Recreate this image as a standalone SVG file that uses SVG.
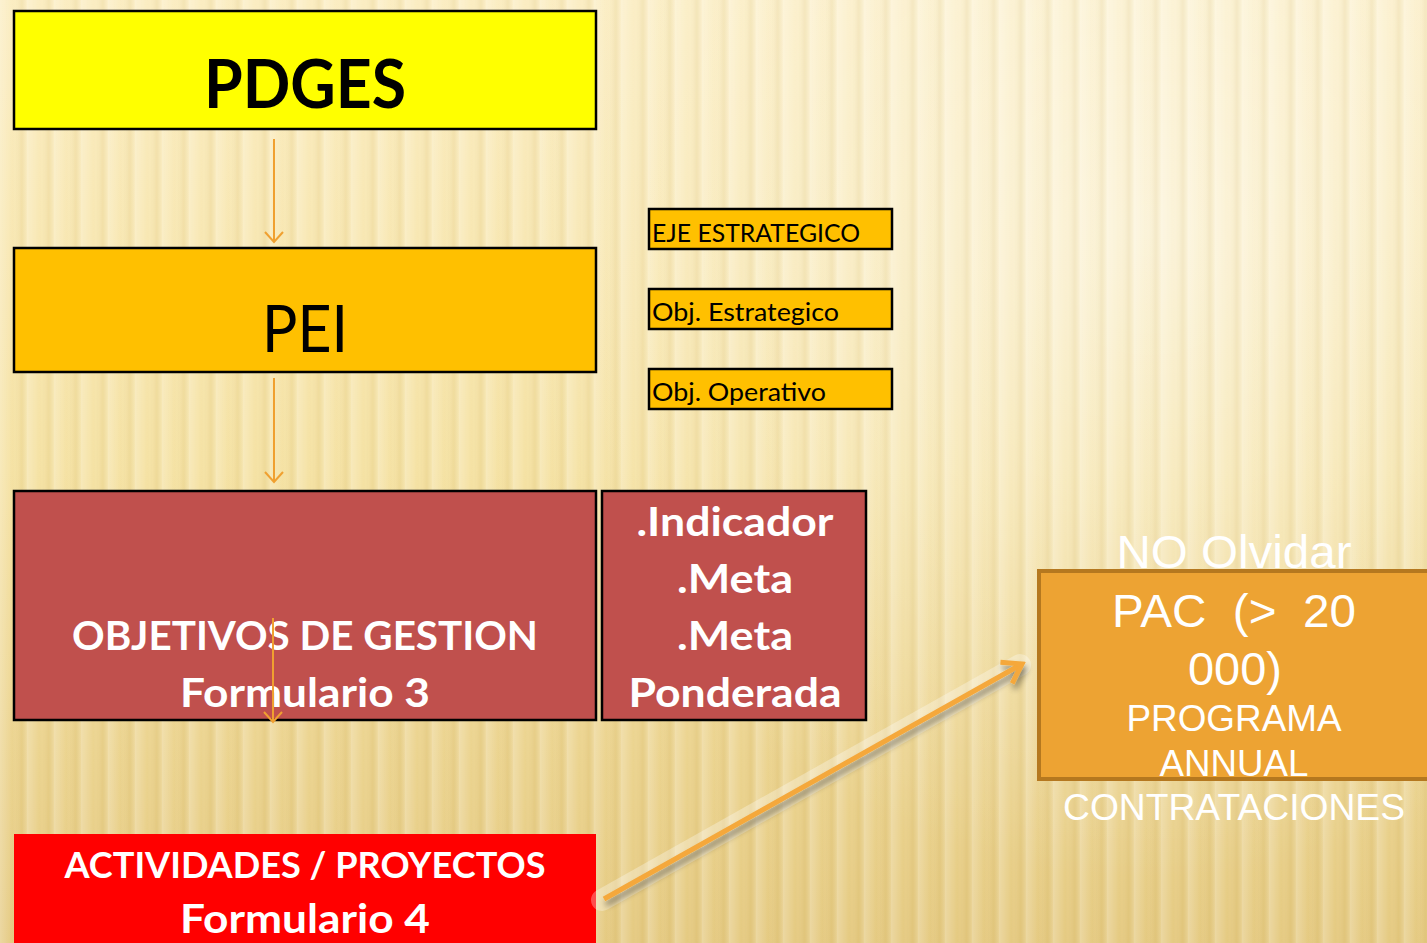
<svg xmlns="http://www.w3.org/2000/svg" width="1427" height="943" viewBox="0 0 1427 943">
<defs>
<linearGradient id="bg" x1="0" y1="0" x2="0" y2="1">
<stop offset="0" stop-color="#fbedc2"/>
<stop offset="0.5" stop-color="#f5e2a4"/>
<stop offset="1" stop-color="#e5ca82"/>
</linearGradient>
<radialGradient id="hl" cx="1150" cy="230" r="650" gradientUnits="userSpaceOnUse">
<stop offset="0" stop-color="#ffffff" stop-opacity="0.5"/>
<stop offset="1" stop-color="#ffffff" stop-opacity="0"/>
</radialGradient>
<linearGradient id="stripe" x1="0" y1="0" x2="1" y2="0">
<stop offset="0" stop-color="#ffffff" stop-opacity="0.25"/>
<stop offset="0.45" stop-color="#ffffff" stop-opacity="0"/>
<stop offset="0.8" stop-color="#b8953a" stop-opacity="0.1"/>
<stop offset="1" stop-color="#ffffff" stop-opacity="0.15"/>
</linearGradient>
<pattern id="stripes" x="0" y="0" width="27" height="943" patternUnits="userSpaceOnUse">
<rect x="0" y="0" width="27" height="943" fill="url(#stripe)"/>
</pattern>
<marker id="chev" viewBox="0 0 20 20" refX="18" refY="10" markerWidth="20" markerHeight="20" markerUnits="userSpaceOnUse" orient="auto">
<path d="M8,1 L18,10 L8,19" fill="none" stroke="#f0a030" stroke-width="2"/>
</marker>
<marker id="bigchev" viewBox="0 0 30 30" refX="26" refY="15" markerWidth="30" markerHeight="30" markerUnits="userSpaceOnUse" orient="auto">
<path d="M8,3 L26,15 L8,27" fill="none" stroke="#f5a83a" stroke-width="5" stroke-linejoin="miter"/>
</marker>
<filter id="shadow" x="-10%" y="-20%" width="120%" height="140%">
<feGaussianBlur in="SourceAlpha" stdDeviation="3"/>
<feOffset dx="2" dy="5" result="b"/>
<feComponentTransfer><feFuncA type="linear" slope="0.45"/></feComponentTransfer>
<feMerge><feMergeNode/><feMergeNode in="SourceGraphic"/></feMerge>
</filter>
<style>
.box{stroke:#000;stroke-width:2.5}
.cal{font-family:Lato,"Open Sans","Liberation Sans",sans-serif}
.b{font-weight:bold}
.w{fill:#fff}
.k{fill:#000}
.nar{font-family:"Liberation Sans Narrow","Liberation Sans",Arial,sans-serif;fill:#fff}
.conn{stroke:#f0a030;stroke-width:2;fill:none}
</style>
</defs>
<rect width="1427" height="943" fill="url(#bg)"/>
<rect width="1427" height="943" fill="url(#hl)"/>
<rect width="1427" height="943" fill="url(#stripes)"/>

<g id="pdges">
<rect class="box" x="14" y="11" width="582" height="118" fill="#ffff00"/>
<text class="cal b k" x="305" y="108" font-size="66" text-anchor="middle" textLength="202" lengthAdjust="spacingAndGlyphs">PDGES</text>
</g>
<g id="pei">
<rect class="box" x="14" y="248" width="582" height="124" fill="#ffc000"/>
<text class="cal k" x="305" y="352" font-size="66" text-anchor="middle" textLength="86" lengthAdjust="spacingAndGlyphs">PEI</text>
</g>
<g id="eje">
<rect class="box" x="649" y="209" width="243" height="40" fill="#ffc000"/>
<text class="cal k" x="652" y="242" font-size="25" textLength="208" lengthAdjust="spacingAndGlyphs">EJE ESTRATEGICO</text>
</g>
<g id="objest">
<rect class="box" x="649" y="289" width="243" height="40" fill="#ffc000"/>
<text class="cal k" x="652" y="321" font-size="25" textLength="187" lengthAdjust="spacingAndGlyphs">Obj. Estrategico</text>
</g>
<g id="objop">
<rect class="box" x="649" y="369" width="243" height="40" fill="#ffc000"/>
<text class="cal k" x="652" y="401" font-size="25" textLength="174" lengthAdjust="spacingAndGlyphs">Obj. Operativo</text>
</g>
<g id="objetivos">
<rect class="box" x="14" y="491" width="582" height="229" fill="#c0504d"/>
<text class="cal b w" x="305" y="650" font-size="40" text-anchor="middle" textLength="466" lengthAdjust="spacingAndGlyphs">OBJETIVOS DE GESTION</text>
<text class="cal b w" x="305" y="707" font-size="40" text-anchor="middle" textLength="250" lengthAdjust="spacingAndGlyphs">Formulario 3</text>
</g>
<g id="indicador">
<rect class="box" x="602" y="491" width="264" height="229" fill="#c0504d"/>
<text class="cal b w" x="735" y="536" font-size="40" text-anchor="middle" textLength="197" lengthAdjust="spacingAndGlyphs">.Indicador</text>
<text class="cal b w" x="735" y="593" font-size="40" text-anchor="middle" textLength="116" lengthAdjust="spacingAndGlyphs">.Meta</text>
<text class="cal b w" x="735" y="650" font-size="40" text-anchor="middle" textLength="116" lengthAdjust="spacingAndGlyphs">.Meta</text>
<text class="cal b w" x="735" y="707" font-size="40" text-anchor="middle" textLength="213" lengthAdjust="spacingAndGlyphs">Ponderada</text>
</g>
<g id="actividades">
<rect x="14" y="834" width="582" height="109" fill="#ff0000"/>
<text class="cal b w" x="305" y="878" font-size="37" text-anchor="middle" textLength="481" lengthAdjust="spacingAndGlyphs">ACTIVIDADES / PROYECTOS</text>
<text class="cal b w" x="305" y="933" font-size="40" text-anchor="middle" textLength="250" lengthAdjust="spacingAndGlyphs">Formulario 4</text>
</g>
<g id="pac">
<rect x="1039" y="571" width="392" height="208" fill="#eda333" stroke="#b5781f" stroke-width="4"/>
<text class="nar" x="1234" y="568" font-size="46" text-anchor="middle" textLength="235" lengthAdjust="spacingAndGlyphs">NO Olvidar</text>
<text class="nar" x="1234" y="627" font-size="46" text-anchor="middle" textLength="244" lengthAdjust="spacingAndGlyphs" xml:space="preserve">PAC  (&gt;  20</text>
<text class="nar" x="1235" y="685" font-size="46" text-anchor="middle" textLength="94" lengthAdjust="spacingAndGlyphs">000)</text>
<text class="nar" x="1234" y="731" font-size="37" text-anchor="middle" textLength="215" lengthAdjust="spacingAndGlyphs">PROGRAMA</text>
<text class="nar" x="1234" y="776" font-size="37" text-anchor="middle" textLength="149" lengthAdjust="spacingAndGlyphs">ANNUAL</text>
<text class="nar" x="1234" y="820" font-size="37" text-anchor="middle" textLength="342" lengthAdjust="spacingAndGlyphs">CONTRATACIONES</text>
</g>
<g id="connectors">
<line class="conn" x1="274" y1="139" x2="274" y2="242" marker-end="url(#chev)"/>
<line class="conn" x1="274" y1="378" x2="274" y2="482" marker-end="url(#chev)"/>
<line class="conn" x1="273" y1="618" x2="273" y2="722" marker-end="url(#chev)"/>
<path d="M602,900 L1020,665" fill="none" stroke="#ffffff" stroke-opacity="0.3" stroke-width="22" stroke-linecap="round"/>
<g filter="url(#shadow)">
<line x1="604" y1="899" x2="1022" y2="664" stroke="#f5a83a" stroke-width="5" marker-end="url(#bigchev)"/>
</g>
</g>
</svg>
